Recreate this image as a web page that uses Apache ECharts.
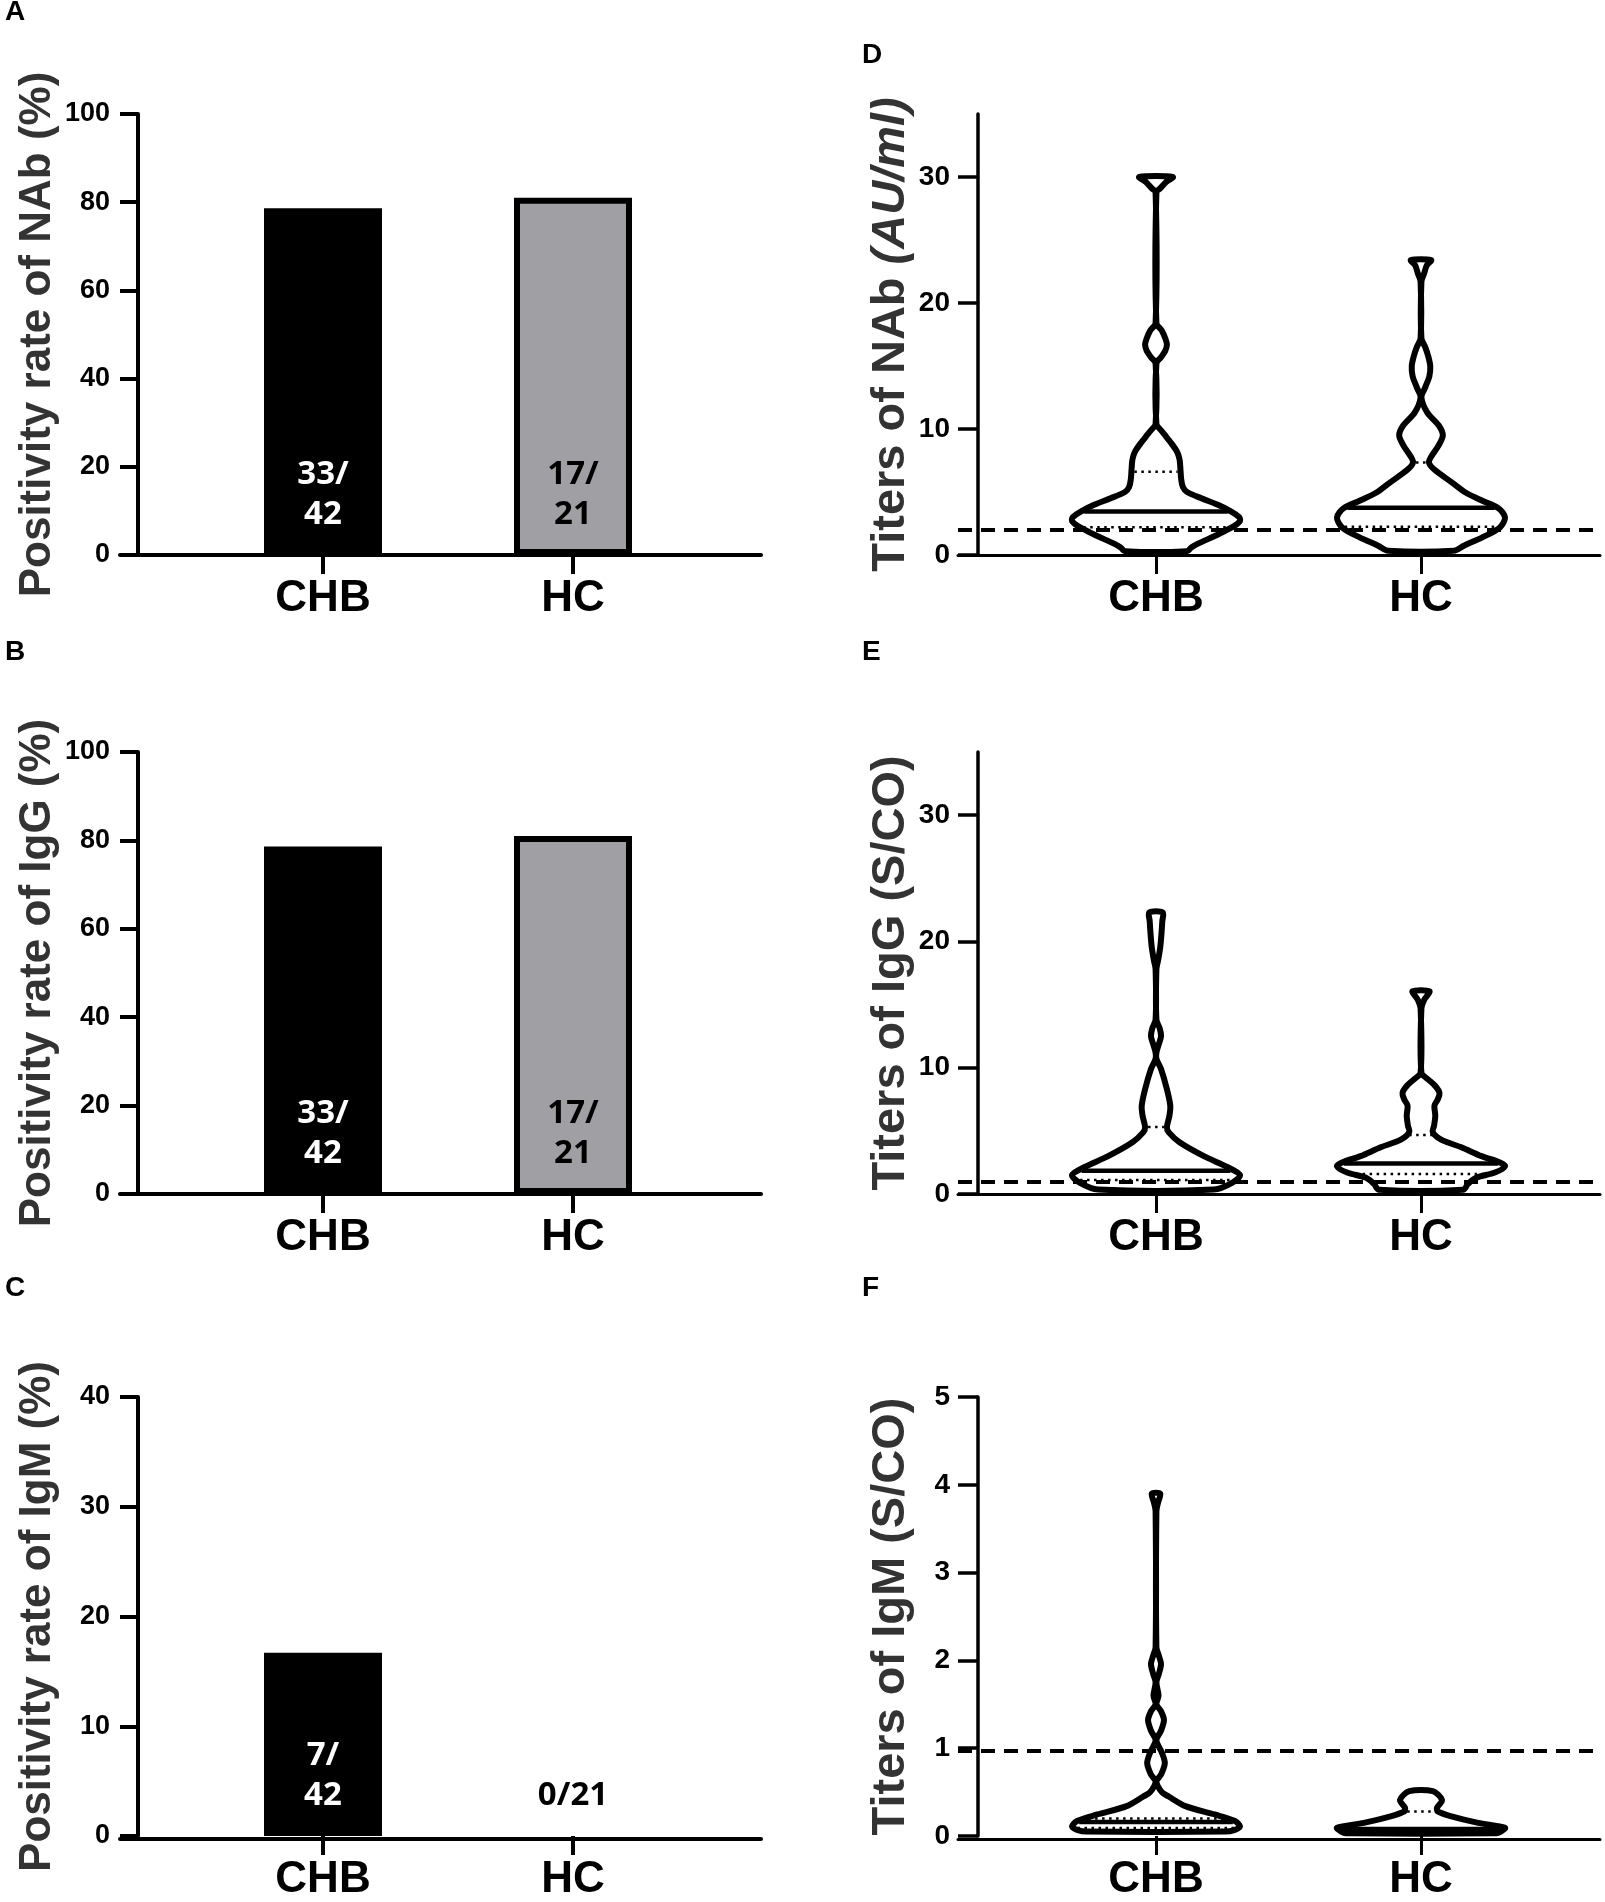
<!DOCTYPE html>
<html><head><meta charset="utf-8">
<script src="https://cdn.jsdelivr.net/npm/echarts@6/dist/echarts.min.js"></script>
<style>html,body{margin:0;padding:0;background:#fff}#c{width:1605px;height:1902px}</style>
</head><body><div id="c"></div><script>
// ---------------- data ----------------
const categories = ['CHB', 'HC'];

// positivity rates (%) and count labels
const nabRate = [78.6, 81.0];
const iggRate = [78.6, 81.0];
const igmRate = [16.7, 0];
const nabCount = ['33/\n42', '17/\n21'];
const iggCount = ['33/\n42', '17/\n21'];
const igmCount = ['7/\n42', '0/21'];

const rateTicks100 = [0, 20, 40, 60, 80, 100];
const rateTicks40 = [0, 10, 20, 30, 40];
const titerTicks35 = [0, 10, 20, 30];
const titerTicks5 = [0, 1, 2, 3, 4, 5];

// cut-off values (dashed lines)
const nabCutoff = 2;
const iggCutoff = 1;
const igmCutoff = 1;

// violin outlines: titer values (top to bottom) and relative width (% of widest)
const nabCHB_v = [30.0, 29.6, 29.1, 28.8, 18.4, 17.8, 17.2, 16.7, 16.2, 15.7, 15.2, 10.4, 9.9, 9.4, 8.8, 8.2, 7.6, 6.9, 6.0, 5.4, 5.0, 4.5, 4.0, 3.5, 3.0, 2.7, 2.3, 1.8, 1.3, 0.9, 0.6, 0.3];
const nabCHB_d = [20, 12, 5, 0.5, 0.5, 7, 11, 13, 11, 6, 0.5, 0.5, 6, 12, 19, 25, 28, 29, 30, 32, 37, 54, 73, 88, 99, 100, 93, 79, 63, 50, 42, 37];
const nabCHB_q = [2.2, 3.45, 6.6];   // Q1, median, Q3

const nabHC_v = [23.4, 23.0, 22.3, 21.7, 17.2, 16.5, 15.8, 15.0, 14.2, 13.3, 12.5, 11.3, 10.3, 9.5, 8.7, 7.9, 7.35, 6.8, 5.75, 4.96, 4.3, 3.72, 2.98, 2.19, 1.4, 0.74, 0.34];
const nabHC_d = [12, 7, 3.5, 0.5, 0.5, 5, 8.5, 11, 10, 5, 0.5, 7.5, 21, 26, 21, 13, 9.5, 15.5, 37, 53, 73, 92, 100, 94, 73, 51, 39];
const nabHC_q = [2.25, 3.75, 7.35];

const iggCHB_v = [22.3, 21.6, 20.6, 19.5, 18.5, 17.8, 13.8, 13.1, 12.5, 11.9, 11.2, 10.7, 9.9, 8.3, 7.0, 6.2, 5.3, 4.9, 4.1, 3.0, 2.1, 1.5, 0.9, 0.35];
const iggCHB_d = [8, 7.5, 6.5, 5, 2.5, 0.5, 0.5, 4.5, 6, 3.5, 0.5, 0.5, 6, 13, 17, 16, 13, 15, 28, 57, 86, 100, 91, 69];
const iggCHB_q = [1.1, 1.84, 5.3];

const iggHC_v = [16.05, 15.4, 14.7, 9.6, 9.1, 8.55, 8.0, 7.5, 7.0, 6.2, 5.4, 4.9, 4.3, 3.7, 3.0, 2.5, 2.2, 1.7, 1.3, 0.8, 0.34];
const iggHC_d = [10, 4, 0.5, 0.5, 8, 17, 22, 20, 16, 17, 15.5, 14, 24, 48, 72, 94, 100, 88, 66, 56, 50];
const iggHC_q = [1.58, 2.42, 4.68];

const igmCHB_v = [3.9, 3.8, 3.7, 2.15, 2.05, 1.96, 1.85, 1.75, 1.6, 1.5, 1.42, 1.32, 1.2, 1.09, 0.95, 0.83, 0.7, 0.62, 0.5, 0.45, 0.34, 0.245, 0.17, 0.11, 0.07, 0.05];
const igmCHB_d = [5, 2.5, 0.5, 0.5, 3.5, 6, 3.5, 0.5, 3, 0.5, 6, 9.5, 6, 0.5, 7, 10.5, 6, 0.5, 7, 15, 35, 70, 94, 100, 94, 82];
const igmCHB_q = [0.09, 0.16, 0.2];

const igmHC_v = [0.51, 0.41, 0.32, 0.28, 0.23, 0.15, 0.094, 0.045, 0.03];
const igmHC_d = [14, 25, 19, 20, 34, 68, 100, 94, 90];
const igmHC_q = [0.05, 0.08, 0.28];

// ---------------- layout / style ----------------
const ROW_TOP = [114, 752, 1397];
const ROW_BOTTOM = [555, 1194, 1839];
const LABEL_FONT = "'Liberation Sans', Arial, sans-serif";
const TICK_FONT = "'Liberation Sans Narrow', 'Arial Narrow', 'Liberation Sans', Arial, sans-serif";
const BARLABEL_FONT = "'Noto Sans', 'Open Sans', sans-serif";
const VIOLIN_HALF = 0.317;   // widest half-width as share of band

const grids = [], xAxes = [], yAxes = [], series = [];

function addPanel(p) {
  const h = p.bottom - p.top;
  const gFull = grids.length;
  grids.push({left: p.fullLeft, width: p.fullWidth, top: p.top, height: h});
  const gMain = grids.length;
  grids.push({left: p.mainLeft, width: p.mainWidth, top: p.top, height: h});

  const xFull = xAxes.length;
  xAxes.push({type: 'value', gridIndex: gFull, min: 0, max: 1,
    axisLine: {show: true, onZero: false, lineStyle: {color: '#000', width: p.xLineW}},
    axisTick: {show: false}, axisLabel: {show: false}, splitLine: {show: false}});
  const yFull = yAxes.length;
  yAxes.push({type: 'value', gridIndex: gFull, min: 0, max: p.yMax, show: false, splitLine: {show: false}});

  const xMain = xAxes.length;
  xAxes.push({type: 'category', gridIndex: gMain, data: categories,
    axisLine: {show: false},
    axisTick: {show: true, alignWithLabel: true, length: 19, lineStyle: {color: '#000', width: p.xLineW}},
    axisLabel: {margin: 22, color: '#000', fontSize: 44, fontWeight: 'bold', fontFamily: LABEL_FONT},
    splitLine: {show: false}});
  const yMain = yAxes.length;
  yAxes.push({type: 'value', gridIndex: gMain, min: 0, max: p.yMax, offset: p.yOffset,
    axisLine: {show: true, onZero: false, lineStyle: {color: '#000', width: p.yLineW}},
    axisTick: {show: true, length: p.tickLen, customValues: p.ticks, lineStyle: {color: '#000', width: p.yLineW}},
    axisLabel: {customValues: p.ticks, margin: p.labelMargin, color: '#000', fontSize: p.tickFont, fontWeight: 'bold', fontFamily: TICK_FONT},
    splitLine: {show: false},
    name: p.name, nameLocation: 'middle', nameGap: p.nameGap,
    nameTextStyle: {color: '#333', fontSize: p.nameFont, fontWeight: 'bold', fontFamily: LABEL_FONT, rich: p.rich}});
  return {xFull, yFull, xMain, yMain};
}

function barPanel(row, name, rates, counts, ticks, yMax) {
  const ax = addPanel({top: ROW_TOP[row], bottom: ROW_BOTTOM[row], fullLeft: 120, fullWidth: 641,
    mainLeft: 198, mainWidth: 500, yOffset: 60, yMax, ticks, name, nameGap: 78, nameFont: 44,
    xLineW: 4, yLineW: 4, tickLen: 18, labelMargin: 28, tickFont: 27});
  series.push({type: 'bar', xAxisIndex: ax.xMain, yAxisIndex: ax.yMain, barWidth: 118,
    data: rates.map((v, k) => ({value: v,
      itemStyle: {color: k === 0 ? '#000' : '#a0a0a4', borderColor: '#000', borderWidth: v > 0 ? 6 : 0},
      label: {color: k === 0 ? '#fff' : '#000'}})),
    label: {show: true, position: 'insideBottom', distance: 20,
      formatter: (q) => counts[q.dataIndex],
      fontSize: 33, lineHeight: 40, fontWeight: 'bold', fontFamily: BARLABEL_FONT}});
}

function widthAt(vs, ds, v) {
  for (let j = 0; j < vs.length - 1; j++) {
    if (v <= vs[j] && v >= vs[j + 1]) {
      const t = (vs[j] - v) / (vs[j] - vs[j + 1]);
      return ds[j] + t * (ds[j + 1] - ds[j]);
    }
  }
  return ds[ds.length - 1];
}

function violinPanel(row, name, rich, profiles, cutoff, ticks, yMax) {
  const ax = addPanel({top: ROW_TOP[row], bottom: ROW_BOTTOM[row], fullLeft: 958, fullWidth: 642,
    mainLeft: 1023.5, mainWidth: 530, yOffset: 45.5, yMax, ticks, name, rich, nameGap: 63, nameFont: 47,
    xLineW: 3, yLineW: 3.5, tickLen: 20, labelMargin: 28, tickFont: 28});
  series.push({type: 'line', xAxisIndex: ax.xFull, yAxisIndex: ax.yFull, data: [], silent: true,
    markLine: {silent: true, symbol: ['none', 'none'], label: {show: false},
      lineStyle: {color: '#000', type: [14, 9], width: 4}, data: [{yAxis: cutoff}]}});
  series.push({type: 'custom', xAxisIndex: ax.xMain, yAxisIndex: ax.yMain, silent: true,
    data: profiles.map((_, k) => [k]),
    renderItem: (params, api) => {
      const idx = api.value(0);
      const prof = profiles[idx];
      const halfMax = api.size([1, 0])[0] * VIOLIN_HALF;
      const cx = api.coord([idx, 0])[0];
      const right = [], left = [];
      prof.v.forEach((val, j) => {
        const y = api.coord([idx, val])[1];
        const w = prof.d[j] / 100 * halfMax;
        right.push([cx + w, y]);
        left.push([cx - w, y]);
      });
      const pts = right.concat(left.reverse());
      const children = [{type: 'polygon', shape: {points: pts, smooth: 0.3},
        style: {fill: 'none', stroke: '#000', lineWidth: 6, lineJoin: 'round'}}];
      prof.q.forEach((qv, j) => {
        const w = widthAt(prof.v, prof.d, qv) / 100 * halfMax - 3;
        const y = api.coord([idx, qv])[1];
        children.push({type: 'line', shape: {x1: cx - w, y1: y, x2: cx + w, y2: y},
          style: j === 1 ? {stroke: '#000', lineWidth: 4.5}
                         : {stroke: '#000', lineWidth: 2.5, lineDash: [2.5, 4.5]}});
      });
      return {type: 'group', children};
    }});
}

barPanel(0, 'Positivity rate of NAb (%)', nabRate, nabCount, rateTicks100, 100);
barPanel(1, 'Positivity rate of IgG (%)', iggRate, iggCount, rateTicks100, 100);
barPanel(2, 'Positivity rate of IgM (%)', igmRate, igmCount, rateTicks40, 40);

const richAU = {n: {fontSize: 47, fontWeight: 'bold', fontFamily: LABEL_FONT, color: '#333'},
                i: {fontSize: 47, fontWeight: 'bold', fontStyle: 'italic', fontFamily: LABEL_FONT, color: '#333'}};
violinPanel(0, '{n|Titers of NAb }{i|(AU/ml)}', richAU,
  [{v: nabCHB_v, d: nabCHB_d, q: nabCHB_q}, {v: nabHC_v, d: nabHC_d, q: nabHC_q}], nabCutoff, titerTicks35, 35);
violinPanel(1, 'Titers of IgG (S/CO)', undefined,
  [{v: iggCHB_v, d: iggCHB_d, q: iggCHB_q}, {v: iggHC_v, d: iggHC_d, q: iggHC_q}], iggCutoff, titerTicks35, 35);
violinPanel(2, 'Titers of IgM (S/CO)', undefined,
  [{v: igmCHB_v, d: igmCHB_d, q: igmCHB_q}, {v: igmHC_v, d: igmHC_d, q: igmHC_q}], igmCutoff, titerTicks5, 5);

const letterStyle = (t) => ({text: t, fill: '#000', font: "bold 28px 'Liberation Sans', Arial, sans-serif"});
const graphic = [
  {type: 'text', left: 5, top: -2, style: letterStyle('A')},
  {type: 'text', left: 5, top: 638, style: letterStyle('B')},
  {type: 'text', left: 5, top: 1274, style: letterStyle('C')},
  {type: 'text', left: 862, top: 41, style: letterStyle('D')},
  {type: 'text', left: 862, top: 638, style: letterStyle('E')},
  {type: 'text', left: 862, top: 1274, style: letterStyle('F')}
];

const chart = echarts.init(document.getElementById('c'), null, {renderer: 'canvas'});
chart.setOption({animation: false, backgroundColor: '#fff', grid: grids, xAxis: xAxes, yAxis: yAxes, series, graphic});
</script></body></html>
